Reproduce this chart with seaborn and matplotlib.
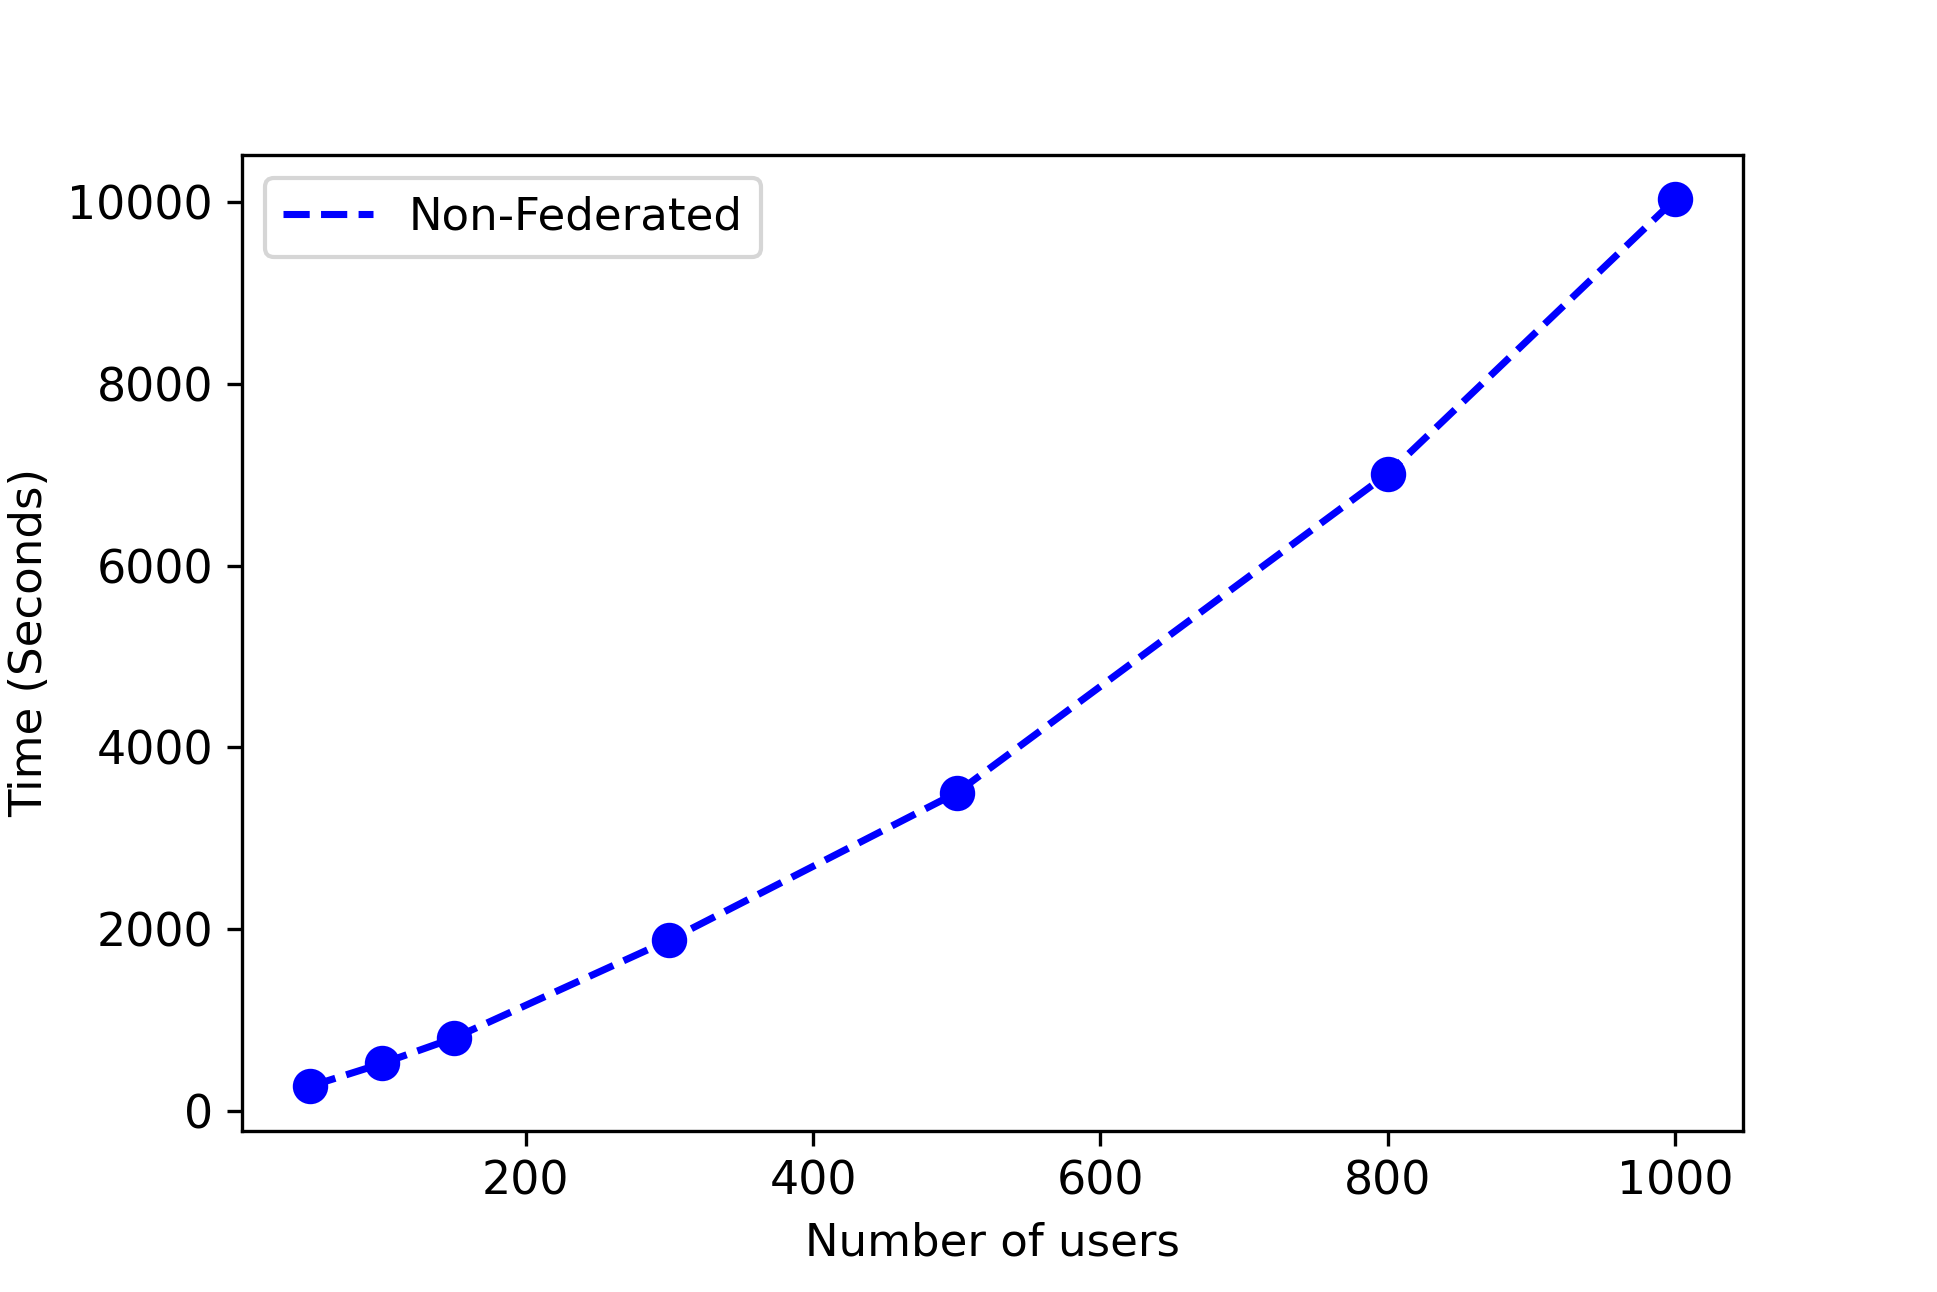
import matplotlib
matplotlib.use("Agg")
import matplotlib.pyplot as plt
import seaborn as sns
import pandas as pd

users = [50, 100, 150, 300, 500, 800, 1000]
time_sec = [270, 520, 800, 1880, 3500, 7010, 10030]
series_label = "Non-Federated"

df = pd.DataFrame({"users": users, "time": time_sec})

plt.rcParams["font.family"] = ["DejaVu Sans"]
plt.rcParams["font.size"] = 10.8
fig, ax = plt.subplots(figsize=(1937 / 300, 1292 / 300), dpi=300)
fig.subplots_adjust(left=0.125, right=0.9, top=0.88, bottom=0.125)

sns.lineplot(data=df, x="users", y="time", ax=ax, color="blue",
             linestyle="--", linewidth=1.7, label=series_label)
ax.plot(df["users"], df["time"], linestyle="none", marker="o",
        markersize=7.5, color="blue")

ax.set_xlabel("Number of users")
ax.set_ylabel("Time (Seconds)")
ax.set_xticks([200, 400, 600, 800, 1000])
ax.set_yticks([0, 2000, 4000, 6000, 8000, 10000])
ax.tick_params(labelsize=11)
ax.legend(loc="upper left")

fig.savefig("out.png", dpi=300)
